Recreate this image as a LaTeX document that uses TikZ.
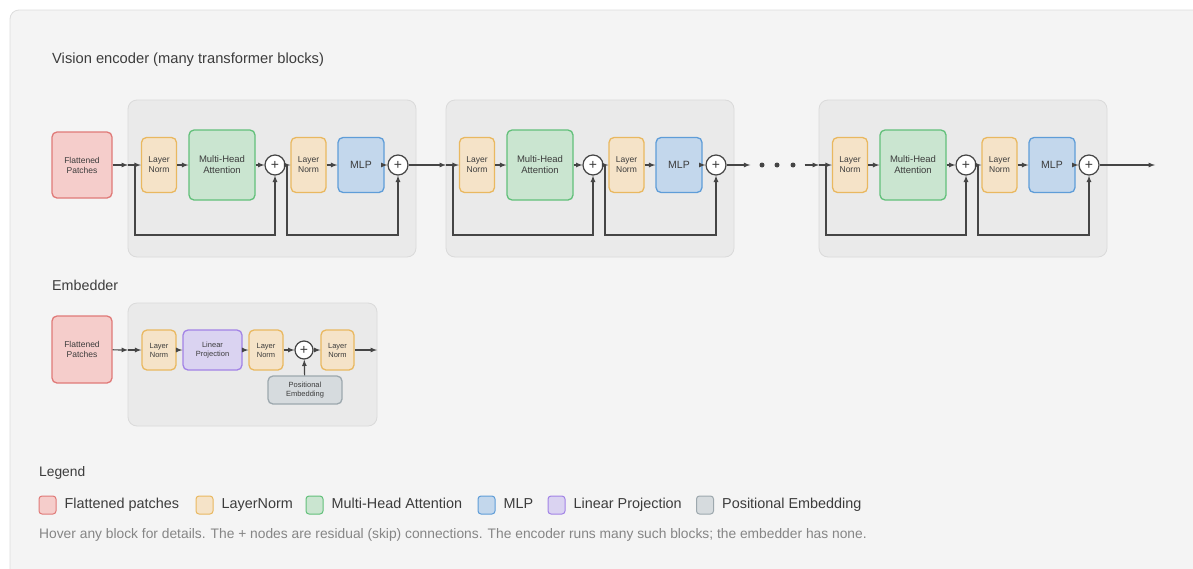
\documentclass[tikz,border=0pt]{standalone}
\usepackage{fontspec}
\setmainfont{Liberation Sans}
\usetikzlibrary{positioning}

\definecolor{ink}{HTML}{3C3C3C}
\definecolor{wire}{HTML}{454545}
\definecolor{panel}{HTML}{F4F4F4}
\definecolor{panelline}{HTML}{DDDDDD}
\definecolor{blockfill}{HTML}{EAEAEA}
\definecolor{blockline}{HTML}{DADADA}
\definecolor{fpfill}{HTML}{F5CDCB}
\definecolor{fpline}{HTML}{E07A78}
\definecolor{lnfill}{HTML}{F5E3C8}
\definecolor{lnline}{HTML}{E9B860}
\definecolor{mhafill}{HTML}{CAE5D0}
\definecolor{mhaline}{HTML}{62C07A}
\definecolor{mlpfill}{HTML}{C3D7EC}
\definecolor{mlpline}{HTML}{5F9DD8}
\definecolor{lpfill}{HTML}{DAD3F1}
\definecolor{lpline}{HTML}{A283E6}
\definecolor{pefill}{HTML}{D6DBDE}
\definecolor{peline}{HTML}{9DA8AE}
\definecolor{notegray}{HTML}{858585}

\tikzset{
  unit/.style={rectangle, rounded corners=5pt, line width=1.3pt, align=center,
    inner sep=0pt, text=ink, font=\fontsize{8.5}{10}\selectfont},
  patches/.style={unit, fill=fpfill, draw=fpline, minimum width=60pt, minimum height=66pt},
  lnorm/.style={unit, fill=lnfill, draw=lnline, minimum width=35pt, minimum height=55pt},
  attn/.style={unit, fill=mhafill, draw=mhaline, minimum width=66pt, minimum height=70pt,
    font=\fontsize{9.5}{11}\selectfont},
  mlp/.style={unit, fill=mlpfill, draw=mlpline, minimum width=46pt, minimum height=55pt,
    font=\fontsize{10.5}{12}\selectfont},
  small/.style={minimum height=40pt, minimum width=34pt, font=\fontsize{7.5}{9}\selectfont},
  plus/.style={circle, draw=wire, fill=white, line width=1.2pt, minimum size=20pt,
    inner sep=0pt, text=ink, font=\fontsize{14}{14}\selectfont},
  bg/.style={fill=blockfill, draw=blockline, line width=0.8pt, rounded corners=9pt},
  link/.style={color=wire, line width=1.2pt, ->},
  dot/.style={circle, fill=wire, minimum size=5pt, inner sep=0pt},
  heading/.style={anchor=west, inner sep=0pt, text=ink},
  swatch/.style={rectangle, rounded corners=3pt, line width=1pt, minimum width=17pt,
    minimum height=18pt, inner sep=0pt},
  legtext/.style={inner sep=0pt, text=ink, text height=10.5pt, text depth=3pt,
    font=\fontsize{14.4}{16}\selectfont}
}

\begin{document}
\begin{tikzpicture}[x=1pt, y=-1pt, >=latex]
\useasboundingbox (0,0) rectangle (1193,568);
\clip (0,0) rectangle (1193,568);
\fill[white] (0,0) rectangle (1193,568);
\draw[fill=panel, draw=panelline, line width=0.8pt, rounded corners=9pt] (10,10) rectangle (1220,600);

% vision encoder
\node [heading, font=\fontsize{14.7}{16}\selectfont] (enctitle) at (52,60) {Vision encoder (many transformer blocks)};
\node [patches] (fp) at (82,165) {Flattened\\Patches};

\foreach \b/\n in {128/a,446/b,819/c} {
  \draw[bg] (\b,100) rectangle ++(288,157);
  \coordinate (\n-in) at (\b,165);
  \coordinate (\n-s1) at (\b+7,165);
  \coordinate (\n-s2) at (\b+159,165);
  \node [lnorm] (\n-ln1) at (\b+31,165) {Layer\\Norm};
  \node [attn] (\n-mha) at (\b+94,165) {Multi-Head\\Attention};
  \node [plus] (\n-p1) at (\b+147,165) {+};
  \node [lnorm] (\n-ln2) at (\b+180.5,165) {Layer\\Norm};
  \node [mlp] (\n-mlp) at (\b+233,165) {MLP};
  \node [plus] (\n-p2) at (\b+270,165) {+};
  \path [link] (\n-in) edge (\n-ln1)
    (\n-ln1) edge (\n-mha)
    (\n-mha) edge (\n-p1)
    (\n-p1) edge (\n-ln2)
    (\n-ln2) edge (\n-mlp)
    (\n-mlp) edge (\n-p2);
  \draw [link] (\n-s1) -- ++(0,70) -| (\n-p1);
  \draw [link] (\n-s2) -- ++(0,70) -| (\n-p2);
}

\node [dot] (d1) at (762,165) {};
\node [dot] (d2) at (777,165) {};
\node [dot] (d3) at (793,165) {};
\coordinate (out) at (1155,165);
\path [link] (fp) edge (a-in)
  (a-p2) edge (b-in)
  (b-p2) edge[shorten >=9pt] (d1)
  (d3) edge[shorten <=9pt] (c-in)
  (c-p2) edge (out);

% embedder
\node [heading, font=\fontsize{14.3}{16}\selectfont] (embtitle) at (52,285) {Embedder};
\draw[bg] (128,303) rectangle (377,426);
\node [patches, minimum height=67pt] (efp) at (82,349.5) {Flattened\\Patches};
\coordinate (e-in) at (128,350);
\coordinate (e-out) at (377,350);
\node [lnorm, small] (e-ln1) at (159,350) {Layer\\Norm};
\node [unit, small, fill=lpfill, draw=lpline, minimum width=59pt] (e-lp) at (212.5,350) {Linear\\Projection};
\node [lnorm, small] (e-ln2) at (266,350) {Layer\\Norm};
\node [plus, minimum size=18pt] (e-p) at (304,350) {+};
\node [lnorm, small, minimum width=33pt] (e-ln3) at (337.5,350) {Layer\\Norm};
\node [unit, fill=pefill, draw=peline, minimum width=74pt, minimum height=28pt,
  font=\fontsize{7.5}{9}\selectfont] (e-pe) at (305,390) {Positional\\Embedding};
\path [link] (efp) edge (e-in)
  (e-in) edge (e-ln1)
  (e-ln1) edge (e-lp)
  (e-lp) edge (e-ln2)
  (e-ln2) edge (e-p)
  (e-p) edge (e-ln3)
  (e-ln3) edge (e-out)
  (e-pe) edge (e-p);

% legend
\node [heading, font=\fontsize{13.8}{15}\selectfont] (legtitle) at (39,473) {Legend};
\node [swatch, fill=fpfill, draw=fpline] (sw1) at (47.5,505) {};
\node [legtext, right=8pt of sw1] (lt1) {Flattened patches};
\node [swatch, fill=lnfill, draw=lnline] (sw2) at (204.5,505) {};
\node [legtext, right=8pt of sw2] (lt2) {LayerNorm};
\node [swatch, fill=mhafill, draw=mhaline] (sw3) at (314.5,505) {};
\node [legtext, right=8pt of sw3] (lt3) {Multi-Head Attention};
\node [swatch, fill=mlpfill, draw=mlpline] (sw4) at (486.5,505) {};
\node [legtext, right=8pt of sw4] (lt4) {MLP};
\node [swatch, fill=lpfill, draw=lpline] (sw5) at (556.5,505) {};
\node [legtext, right=8pt of sw5] (lt5) {Linear Projection};
\node [swatch, fill=pefill, draw=peline] (sw6) at (705,505) {};
\node [legtext, right=8pt of sw6] (lt6) {Positional Embedding};
\node [heading, text=notegray, font=\fontsize{13.8}{15}\selectfont] (note) at (39,535)
  {Hover any block for details. The + nodes are residual (skip) connections. The encoder runs many such blocks; the embedder has none.};
\end{tikzpicture}
\end{document}
